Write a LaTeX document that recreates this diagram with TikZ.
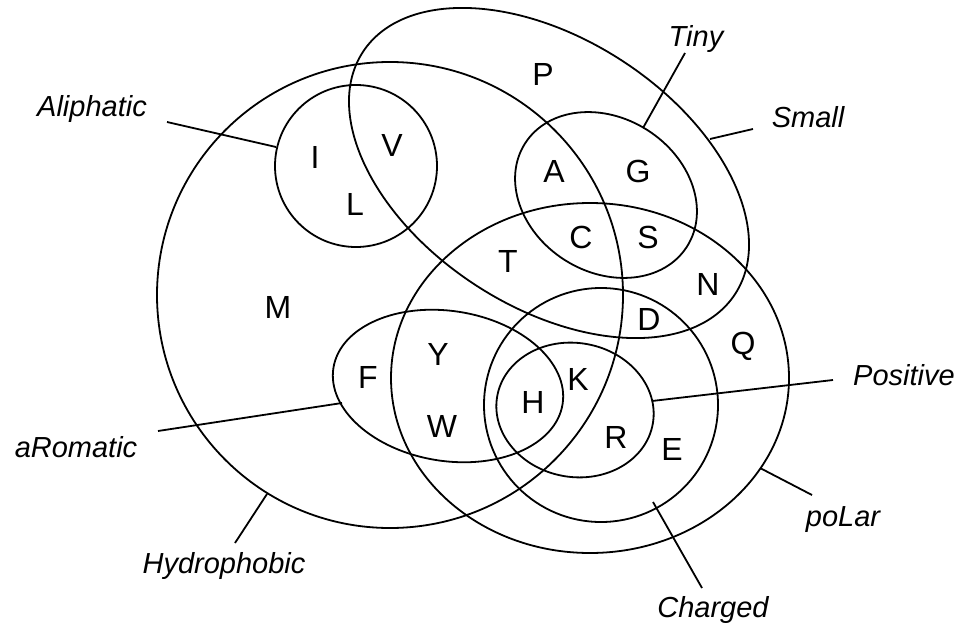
\documentclass[tikz,border=0pt]{standalone}
\usepackage{fontspec}
\setmainfont{Liberation Sans}
\begin{document}
\begin{tikzpicture}[x=1pt,y=-1pt,
  setline/.style={line width=1.8pt},
  leader/.style={line width=1.8pt},
  amino/.style={font=\fontsize{32}{32}\selectfont, anchor=base, inner sep=0pt},
  setname/.style={font=\fontsize{29}{29}\selectfont\itshape, anchor=base, inner sep=0pt}]
\useasboundingbox (0,0) rectangle (958,623);

% the eight sets
\draw[setline] (390,295) circle [radius=233pt];                                   % hydrophobic
\draw[setline, rotate around={-33:(549,173)}] (549,173) ellipse [x radius=222pt, y radius=134pt]; % small
\draw[setline, rotate around={-32.5:(606,195)}] (606,195) ellipse [x radius=96pt, y radius=77pt]; % tiny
\draw[setline] (356,166) circle [radius=81pt];                                    % aliphatic
\draw[setline] (590,378) ellipse [x radius=199pt, y radius=175pt];                % polar
\draw[setline] (601,405) circle [radius=117pt];                                   % charged
\draw[setline, rotate around={-10:(575,410)}] (575,410) ellipse [x radius=79pt, y radius=67pt]; % positive
\draw[setline, rotate around={-9:(448,386)}] (448,386) ellipse [x radius=116pt, y radius=75pt]; % aromatic

% amino acids
\node[amino] (aaP) at (543,86) {P};
\node[amino] (aaI) at (315,168) {I};
\node[amino] (aaV) at (392,157) {V};
\node[amino] (aaL) at (355,215) {L};
\node[amino] (aaM) at (278,318) {M};
\node[amino] (aaA) at (554,182) {A};
\node[amino] (aaG) at (638,182) {G};
\node[amino] (aaC) at (581,248) {C};
\node[amino] (aaS) at (648,248) {S};
\node[amino] (aaT) at (508,272) {T};
\node[amino] (aaN) at (708,295) {N};
\node[amino] (aaD) at (649,330) {D};
\node[amino] (aaQ) at (743,354) {Q};
\node[amino] (aaK) at (578,390) {K};
\node[amino] (aaH) at (533,413) {H};
\node[amino] (aaR) at (616,448) {R};
\node[amino] (aaE) at (672,460) {E};
\node[amino] (aaF) at (368,388) {F};
\node[amino] (aaY) at (438,365) {Y};
\node[amino] (aaW) at (442,437) {W};

% set names
\node[setname] (nAliph) at (92,117) {Aliphatic};
\node[setname] (nTiny) at (696,47) {Tiny};
\node[setname] (nSmall) at (808,128) {Small};
\node[setname] (nPos) at (904,385) {Positive};
\node[setname] (nPolar) at (843,526) {poLar};
\node[setname] (nChg) at (713,617) {Charged};
\node[setname] (nArom) at (76,457) {aRomatic};
\node[setname] (nHydro) at (224,573) {Hydrophobic};

% leader line ends
\coordinate (aliphA) at (167,122);  \coordinate (aliphB) at (276,147);
\coordinate (tinyA) at (685,53);    \coordinate (tinyB) at (643,128);
\coordinate (smallA) at (753,129);  \coordinate (smallB) at (710,139);
\coordinate (posA) at (833,380);    \coordinate (posB) at (652,401);
\coordinate (polarA) at (812,495);  \coordinate (polarB) at (760,468);
\coordinate (chgA) at (702,588);    \coordinate (chgB) at (653,502);
\coordinate (aromA) at (158,431);   \coordinate (aromB) at (342,403);
\coordinate (hydroA) at (235,543);  \coordinate (hydroB) at (267,494);

\draw[leader] (aliphA) -- (aliphB);
\draw[leader] (tinyA) -- (tinyB);
\draw[leader] (smallA) -- (smallB);
\draw[leader] (posA) -- (posB);
\draw[leader] (polarA) -- (polarB);
\draw[leader] (chgA) -- (chgB);
\draw[leader] (aromA) -- (aromB);
\draw[leader] (hydroA) -- (hydroB);
\end{tikzpicture}
\end{document}
